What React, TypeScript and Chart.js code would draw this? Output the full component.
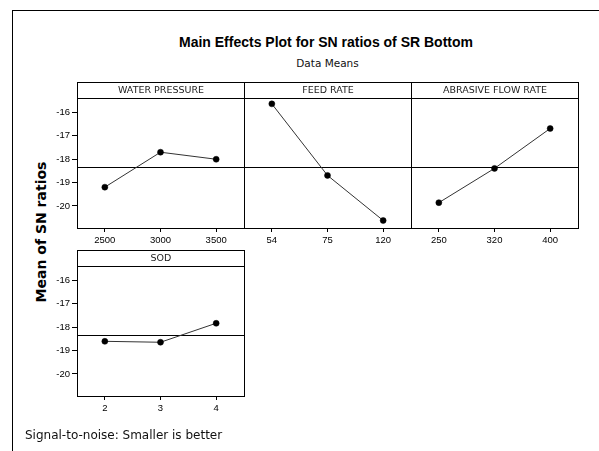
import React, { useEffect, useRef } from "react";
import { Chart, registerables } from "chart.js";

Chart.register(...registerables);

// ---- data ----
const waterPressureLevels = ["2500", "3000", "3500"];
const waterPressureSN = [-19.2, -17.71, -18.01];

const feedRateLevels = ["54", "75", "120"];
const feedRateSN = [-15.65, -18.7, -20.62];

const abrasiveFlowLevels = ["250", "320", "400"];
const abrasiveFlowSN = [-19.86, -18.4, -16.7];

const sodLevels = ["2", "3", "4"];
const sodSN = [-18.61, -18.65, -17.84];

const yTickValues = [-16, -17, -18, -19, -20];
const yMin = -20.94;
const yMax = -15.4;
const overallMeanSN = -18.34;

// ---- layout ----
const HEADER_H = 16;
const PLOT_W = 167;
const PLOT_H = 130;
const YW = 34;
const XH = 24;

type PanelProps = {
  label: string;
  levels: string[];
  values: number[];
  plotLeft: number;
  headerTop: number;
  showY: boolean;
};

function Panel({ label, levels, values, plotLeft, headerTop, showY }: PanelProps) {
  const ref = useRef<HTMLCanvasElement | null>(null);
  const width = (showY ? YW : 0) + PLOT_W + 1;
  const height = HEADER_H + PLOT_H + XH;

  useEffect(() => {
    if (!ref.current) return;
    const framePlugin = {
      id: "panelFrame",
      beforeDatasetsDraw(chart: any) {
        const { ctx, chartArea, scales } = chart;
        const yy = Math.round(scales.y.getPixelForValue(overallMeanSN)) + 0.5;
        ctx.save();
        ctx.strokeStyle = "#000";
        ctx.lineWidth = 1;
        ctx.beginPath();
        ctx.moveTo(chartArea.left, yy);
        ctx.lineTo(chartArea.right, yy);
        ctx.stroke();
        ctx.restore();
      },
      afterDraw(chart: any) {
        const { ctx, chartArea } = chart;
        const l = Math.round(chartArea.left) + 0.5;
        const r = Math.round(chartArea.right) + 0.5;
        const t = Math.round(chartArea.top) + 0.5;
        const b = Math.round(chartArea.bottom) + 0.5;
        ctx.save();
        ctx.strokeStyle = "#000";
        ctx.lineWidth = 1;
        ctx.strokeRect(l, t, r - l, b - t);
        ctx.strokeRect(l, t - HEADER_H, r - l, HEADER_H);
        ctx.fillStyle = "#222";
        ctx.font = "9.5px 'DejaVu Sans'";
        ctx.textAlign = "center";
        ctx.textBaseline = "middle";
        ctx.fillText(label, (l + r) / 2, t - HEADER_H / 2 + 0.5);
        ctx.restore();
      },
    };

    const chart = new Chart(ref.current, {
      type: "line",
      data: {
        labels: levels,
        datasets: [
          {
            data: values,
            borderColor: "#333",
            borderWidth: 1,
            pointRadius: 3,
            pointBackgroundColor: "#000",
            pointBorderColor: "#000",
            pointBorderWidth: 0.5,
            tension: 0,
            clip: false as any,
          },
        ],
      },
      options: {
        responsive: false,
        animation: false,
        devicePixelRatio: 1,
        layout: {
          autoPadding: false,
          padding: { top: HEADER_H, right: 1, left: 0, bottom: 0 },
        },
        plugins: {
          legend: { display: false },
          tooltip: { enabled: false },
          title: { display: false },
        },
        scales: {
          x: {
            type: "category",
            offset: true,
            border: { display: false },
            grid: {
              drawOnChartArea: false,
              drawTicks: true,
              tickLength: 4,
              color: "#000",
              offset: false,
            },
            ticks: {
              color: "#000",
              padding: 3,
              maxRotation: 0,
              autoSkip: false,
              font: { family: "'Liberation Sans'", size: 9.5 },
            },
            afterFit: (s: any) => {
              s.height = XH;
              s.paddingLeft = 0;
              s.paddingRight = 0;
            },
          },
          y: {
            type: "linear",
            display: showY,
            min: yMin,
            max: yMax,
            border: { display: false },
            grid: {
              drawOnChartArea: false,
              drawTicks: true,
              tickLength: 5,
              color: "#000",
            },
            ticks: {
              color: "#000",
              padding: 2,
              font: { family: "'Liberation Sans'", size: 9.5 },
              callback: (v: any) => String(v),
            },
            afterBuildTicks: (s: any) => {
              s.ticks = yTickValues.map((v) => ({ value: v }));
            },
            afterFit: (s: any) => {
              s.width = showY ? YW : 0;
              s.paddingTop = 0;
              s.paddingBottom = 0;
            },
          },
        },
      },
      plugins: [framePlugin],
    });
    return () => chart.destroy();
  }, [label, levels, values, showY]);

  return (
    <canvas
      ref={ref}
      width={width}
      height={height}
      style={{
        position: "absolute",
        left: plotLeft - (showY ? YW : 0),
        top: headerTop,
        width,
        height,
        display: "block",
      }}
    />
  );
}

export default function App() {
  return (
    <div
      style={{
        position: "absolute",
        left: 0,
        top: 0,
        width: 599,
        height: 451,
        background: "#fff",
        overflow: "hidden",
      }}
    >
      <div
        style={{
          position: "absolute",
          left: 12,
          top: 10,
          width: 587,
          height: 441,
          borderLeft: "1px solid #000",
          borderTop: "1px solid #000",
          boxSizing: "border-box",
        }}
      />
      <div
        style={{
          position: "absolute",
          left: 0,
          width: 652,
          top: 34,
          textAlign: "center",
          font: "bold 14px 'Liberation Sans'",
          lineHeight: "16px",
          color: "#000",
          whiteSpace: "nowrap",
        }}
      >
        Main Effects Plot for SN ratios of SR Bottom
      </div>
      <div
        style={{
          position: "absolute",
          left: 0,
          width: 655,
          top: 56,
          textAlign: "center",
          font: "10.5px 'DejaVu Sans'",
          lineHeight: "14px",
          color: "#111",
          whiteSpace: "nowrap",
        }}
      >
        Data Means
      </div>
      <div
        style={{
          position: "absolute",
          left: 41,
          top: 232,
          transform: "translate(-50%, -50%) rotate(-90deg)",
          font: "bold 14px 'DejaVu Sans'",
          color: "#000",
          whiteSpace: "nowrap",
        }}
      >
        Mean of SN ratios
      </div>
      <Panel label="WATER PRESSURE" levels={waterPressureLevels} values={waterPressureSN} plotLeft={77} headerTop={82} showY={true} />
      <Panel label="FEED RATE" levels={feedRateLevels} values={feedRateSN} plotLeft={244} headerTop={82} showY={false} />
      <Panel label="ABRASIVE FLOW RATE" levels={abrasiveFlowLevels} values={abrasiveFlowSN} plotLeft={411} headerTop={82} showY={false} />
      <Panel label="SOD" levels={sodLevels} values={sodSN} plotLeft={77} headerTop={250} showY={true} />
      <div
        style={{
          position: "absolute",
          left: 25,
          top: 427,
          font: "12px 'DejaVu Sans'",
          lineHeight: "16px",
          color: "#111",
          whiteSpace: "nowrap",
        }}
      >
        Signal-to-noise: Smaller is better
      </div>
    </div>
  );
}
